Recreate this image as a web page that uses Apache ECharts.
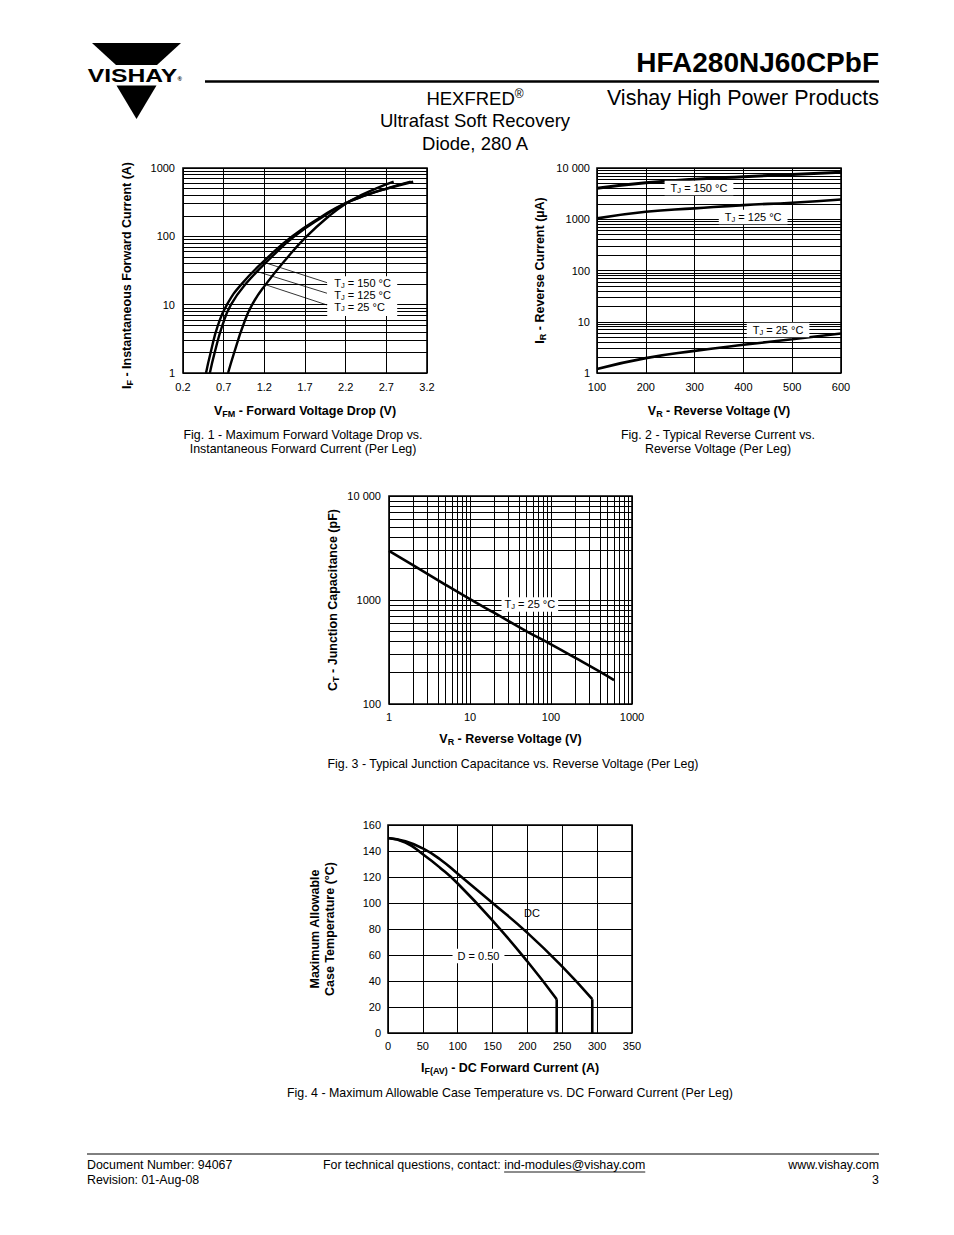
<!DOCTYPE html>
<html>
<head>
<meta charset="utf-8">
<script src="https://cdn.jsdelivr.net/npm/echarts@6.0.0/dist/echarts.min.js"></script>
<style>
html,body{margin:0;padding:0;background:#fff;}
#page{width:954px;height:1235px;}
</style>
</head>
<body>
<div id="page"></div>
<script>
// ---------------- DATA ----------------
// Fig. 1 : forward current (A) vs forward voltage (V)
const fig1Current = [1, 2, 5, 10, 20, 50, 100, 200, 300, 400, 500, 630];
const fig1V150 = [0.483, 0.540, 0.630, 0.740, 0.920, 1.250, 1.540, 1.920, 2.180, 2.450, 2.710, 3.030];
const fig1V125 = [0.530, 0.590, 0.685, 0.790, 0.970, 1.290, 1.570, 1.940, 2.190, 2.450, 2.700, 3.000];
const fig1V25  = [0.754, 0.830, 0.940, 1.050, 1.220, 1.490, 1.720, 2.000, 2.200, 2.390, 2.570, 2.790];
const fig1XTicks = [0.2, 0.7, 1.2, 1.7, 2.2, 2.7, 3.2];
const fig1YTicks = [1, 10, 100, 1000];

// Fig. 2 : reverse current (uA) vs reverse voltage (V)
const fig2Voltage = [100, 200, 300, 400, 500, 600];
const fig2I150 = [4020, 5130, 6030, 6760, 7500, 8220];
const fig2I125 = [1040, 1400, 1630, 1890, 2100, 2430];
const fig2I25  = [1.2, 1.95, 2.7, 3.55, 4.55, 5.9];
const fig2XTicks = [100, 200, 300, 400, 500, 600];
const fig2YTicks = [1, 10, 100, 1000, 10000];

// Fig. 3 : junction capacitance (pF) vs reverse voltage (V)
const fig3Voltage = [1, 2, 5, 10, 20, 50, 100, 200, 400, 600];
const fig3Cap = [2970, 2150, 1400, 1020, 750, 500, 375, 278, 205, 170];
const fig3XTicks = [1, 10, 100, 1000];
const fig3YTicks = [100, 1000, 10000];

// Fig. 4 : max case temperature (°C) vs DC forward current (A)
const fig4DcCurrent = [0, 25, 50, 75, 100, 150, 200, 250, 293, 293];
const fig4DcTemp    = [150, 147.5, 142, 133.5, 122.5, 100, 77, 51, 26, 0];
const fig4D50Current = [0, 25, 50, 75, 100, 150, 200, 242, 242];
const fig4D50Temp    = [150, 146.5, 137.5, 127, 115, 86.5, 55, 26, 0];
const fig4XTicks = [0, 50, 100, 150, 200, 250, 300, 350];
const fig4YTicks = [0, 20, 40, 60, 80, 100, 120, 140, 160];

// annotation anchors (data coordinates)
const fig1Leaders = [
  [[1.186, 42], [1.97, 21.0]],
  [[1.116, 30.4], [1.97, 14.7]],
  [[1.214, 19.6], [1.97, 9.9]]
];
const fig1LabelAnchors = [[1.973, 20.8], [1.973, 13.9], [1.973, 8.95]];
const fig2LabelAnchors = [[309, 4070], [420, 1107], [471, 6.9]];
const fig3LabelAnchor = [54.8, 906];
const fig4LabelAnchors = [[206.6, 92.3], [129.8, 59.2]];

// ---------------- HELPERS ----------------
const FONT = '"Liberation Sans", Arial, Helvetica, sans-serif';
function pairs(xs, ys) { return xs.map((x, i) => [x, ys[i]]); }
function minorLog(min, max) {
  const out = [];
  for (let d = min; d < max; d *= 10) for (let k = 2; k <= 9; k++) out.push(d * k);
  return out;
}
function fmtNum(v) {
  const r = Math.round(v);
  return r >= 10000 ? String(r).replace(/(\d)(?=(\d{3})+$)/g, '$1 ') : String(r);
}
const nameRich = {
  b: { fontFamily: FONT, fontWeight: 'bold', fontSize: 12.5, lineHeight: 15, color: '#000' },
  s: { fontFamily: FONT, fontWeight: 'bold', fontSize: 9, lineHeight: 7, verticalAlign: 'bottom', color: '#000' }
};
const tagRich = {
  a: { fontFamily: FONT, fontSize: 11, lineHeight: 12.5, color: '#000' },
  s: { fontFamily: FONT, fontSize: 7.5, lineHeight: 6, verticalAlign: 'bottom', color: '#000' }
};
const LBL = { color: '#000', fontSize: 11, fontFamily: FONT };
function axisBase(extra) {
  return Object.assign({
    axisLine: { show: false },
    axisTick: { show: false },
    splitLine: { show: true, lineStyle: { color: '#000', width: 1 } },
    nameLocation: 'middle',
    nameTextStyle: { rich: nameRich }
  }, extra);
}
function gridSeries(xi, yi, xVals, yVals) {
  const d = [];
  (xVals || []).forEach(v => d.push({ xAxis: v }));
  (yVals || []).forEach(v => d.push({ yAxis: v }));
  return {
    type: 'line', xAxisIndex: xi, yAxisIndex: yi, data: [], z: 1, silent: true,
    markLine: {
      silent: true, symbol: ['none', 'none'], label: { show: false },
      lineStyle: { color: '#000', width: 1, type: 'solid' },
      emphasis: { disabled: true }, animation: false, data: d
    }
  };
}
function annotations(xi, yi, points, leaders) {
  const s = { type: 'line', xAxisIndex: xi, yAxisIndex: yi, data: [], z: 2, silent: true,
    markPoint: { silent: true, animation: false, data: points } };
  if (leaders) {
    s.markLine = {
      silent: true, symbol: ['none', 'none'], label: { show: false }, animation: false,
      lineStyle: { color: '#000', width: 0.8, type: 'solid' },
      data: leaders.map(l => [{ coord: l[0] }, { coord: l[1] }])
    };
  }
  return s;
}
function curve(xi, yi, data, width, extra) {
  return Object.assign({
    type: 'line', xAxisIndex: xi, yAxisIndex: yi, data: data, showSymbol: false,
    smooth: 0.5, z: 4, silent: true,
    lineStyle: { color: '#000', width: width }
  }, extra || {});
}
function tag(coord, text, opts) {
  return {
    coord: coord, symbol: 'circle', symbolSize: 1, itemStyle: { color: 'rgba(0,0,0,0)' },
    label: Object.assign({
      show: true, position: 'inside', formatter: text, rich: tagRich,
      backgroundColor: '#fff', padding: [1, 5], color: '#000', fontFamily: FONT, fontSize: 11
    }, opts || {})
  };
}
function tj(t) { return '{a|T}{s|J}{a| = ' + t + ' °C}'; }

// ---------------- CHART ----------------
const chart = echarts.init(document.getElementById('page'), null, { renderer: 'svg', width: 954, height: 1235 });

const grids = [
  { left: 183, top: 168, width: 244, height: 205 },
  { left: 597, top: 168, width: 244, height: 205 },
  { left: 389, top: 496, width: 243, height: 208 },
  { left: 388, top: 825, width: 244, height: 208 }
].map(g => Object.assign({ show: true, borderColor: '#000', borderWidth: 1.6, backgroundColor: 'transparent', containLabel: false }, g));

const xAxes = [
  axisBase({ gridIndex: 0, type: 'value', min: fig1XTicks[0], max: fig1XTicks[fig1XTicks.length - 1],
    interval: fig1XTicks[1] - fig1XTicks[0],
    axisLabel: Object.assign({ margin: 8, formatter: v => v.toFixed(1) }, LBL),
    name: '{b|V}{s|FM}{b| - Forward Voltage Drop (V)}', nameGap: 30 }),
  axisBase({ gridIndex: 1, type: 'value', min: fig2XTicks[0], max: fig2XTicks[fig2XTicks.length - 1],
    interval: fig2XTicks[1] - fig2XTicks[0],
    axisLabel: Object.assign({ margin: 8 }, LBL),
    name: '{b|V}{s|R}{b| - Reverse Voltage (V)}', nameGap: 30 }),
  axisBase({ gridIndex: 2, type: 'log', logBase: 10, min: fig3XTicks[0], max: fig3XTicks[fig3XTicks.length - 1],
    axisLabel: Object.assign({ margin: 7, formatter: fmtNum }, LBL),
    name: '{b|V}{s|R}{b| - Reverse Voltage (V)}', nameGap: 27.5 }),
  axisBase({ gridIndex: 3, type: 'value', min: fig4XTicks[0], max: fig4XTicks[fig4XTicks.length - 1],
    interval: fig4XTicks[1] - fig4XTicks[0],
    axisLabel: Object.assign({ margin: 7 }, LBL),
    name: '{b|I}{s|F(AV)}{b| - DC Forward Current (A)}', nameGap: 27.5 })
];
const yAxes = [
  axisBase({ gridIndex: 0, type: 'log', logBase: 10, min: fig1YTicks[0], max: fig1YTicks[fig1YTicks.length - 1],
    axisLabel: Object.assign({ margin: 8, formatter: fmtNum }, LBL),
    name: '{b|I}{s|F}{b| - Instantaneous Forward Current (A)}', nameGap: 48.5, nameRotate: 90,
    nameTextStyle: { rich: nameRich, padding: [0, 10, 0, 0] } }),
  axisBase({ gridIndex: 1, type: 'log', logBase: 10, min: fig2YTicks[0], max: fig2YTicks[fig2YTicks.length - 1],
    axisLabel: Object.assign({ margin: 7, formatter: fmtNum }, LBL),
    name: '{b|I}{s|R}{b| - Reverse Current (µA)}', nameGap: 49.5, nameRotate: 90 }),
  axisBase({ gridIndex: 2, type: 'log', logBase: 10, min: fig3YTicks[0], max: fig3YTicks[fig3YTicks.length - 1],
    axisLabel: Object.assign({ margin: 8, formatter: fmtNum }, LBL),
    name: '{b|C}{s|T}{b| - Junction Capacitance (pF)}', nameGap: 48.5, nameRotate: 90 }),
  axisBase({ gridIndex: 3, type: 'value', min: fig4YTicks[0], max: fig4YTicks[fig4YTicks.length - 1],
    interval: fig4YTicks[1] - fig4YTicks[0],
    axisLabel: Object.assign({ margin: 7 }, LBL),
    name: '{b|Maximum Allowable}\n{b|Case Temperature (°C)}', nameGap: 51, nameRotate: 90 })
];

const dcPts = pairs(fig4DcCurrent, fig4DcTemp);
const d50Pts = pairs(fig4D50Current, fig4D50Temp);
const boxFig1 = { align: 'left', width: 57, padding: [0.5, 6, 0.5, 7] };

const series = [
  gridSeries(0, 0, null, minorLog(fig1YTicks[0], fig1YTicks[fig1YTicks.length - 1])),
  gridSeries(1, 1, null, minorLog(fig2YTicks[0], fig2YTicks[fig2YTicks.length - 1])),
  gridSeries(2, 2, minorLog(fig3XTicks[0], fig3XTicks[fig3XTicks.length - 1]), minorLog(fig3YTicks[0], fig3YTicks[fig3YTicks.length - 1])),

  annotations(0, 0, [
    tag(fig1LabelAnchors[0], tj(150), boxFig1),
    tag(fig1LabelAnchors[1], tj(125), boxFig1),
    tag(fig1LabelAnchors[2], tj(25), Object.assign({}, boxFig1, { padding: [0.5, 6, 3, 7] }))
  ], fig1Leaders),
  annotations(1, 1, [
    tag(fig2LabelAnchors[0], tj(150), { padding: [1, 6] }),
    tag(fig2LabelAnchors[1], tj(125), { padding: [1, 6] }),
    tag(fig2LabelAnchors[2], tj(25), { padding: [1, 6] })
  ]),
  annotations(2, 2, [tag(fig3LabelAnchor, tj(25), { padding: [1, 3] })]),
  annotations(3, 3, [
    tag(fig4LabelAnchors[0], '{a|DC}', { padding: [1, 2], backgroundColor: 'transparent' }),
    tag(fig4LabelAnchors[1], '{a|D = 0.50}', { padding: [1, 5] })
  ]),

  // Fig 1
  curve(0, 0, pairs(fig1V150, fig1Current), 2.4),
  curve(0, 0, pairs(fig1V125, fig1Current), 2.4),
  curve(0, 0, pairs(fig1V25, fig1Current), 2.4),
  // Fig 2
  curve(1, 1, pairs(fig2Voltage, fig2I150), 3),
  curve(1, 1, pairs(fig2Voltage, fig2I125), 2.6),
  curve(1, 1, pairs(fig2Voltage, fig2I25), 2.6),
  // Fig 3
  curve(2, 2, pairs(fig3Voltage, fig3Cap), 2.6),
  // Fig 4
  curve(3, 3, dcPts.slice(0, dcPts.length - 1), 2.6),
  curve(3, 3, dcPts.slice(dcPts.length - 2), 2.6, { smooth: false }),
  curve(3, 3, d50Pts.slice(0, d50Pts.length - 1), 2.6),
  curve(3, 3, d50Pts.slice(d50Pts.length - 2), 2.6, { smooth: false })
];

function txt(x, y, text, size, opts) {
  return {
    type: 'text', x: x, y: y, silent: true,
    style: Object.assign({ text: text, fontSize: size, fontFamily: FONT, fill: '#000', align: 'left', verticalAlign: 'middle' }, opts || {})
  };
}

// footer layout (measure the contact text to place the underlined e-mail)
const FOOT = 12.4;
const mctx = document.createElement('canvas').getContext('2d');
mctx.font = FOOT + 'px ' + FONT;
const contactText = 'For technical questions, contact: ';
const emailText = 'ind-modules@vishay.com';
const emailX = 323 + mctx.measureText(contactText).width;
const emailW = mctx.measureText(emailText).width;

const graphics = [
  // logo
  { type: 'polygon', silent: true, shape: { points: [[92, 43], [181, 43], [157, 65], [116, 65]] }, style: { fill: '#000' } },
  { type: 'polygon', silent: true, shape: { points: [[116.5, 85.5], [156.5, 85.5], [136.5, 119]] }, style: { fill: '#000' } },
  { type: 'text', silent: true, x: 132.5, y: 75.5, scaleX: 1.3,
    style: { text: 'VISHAY', fontSize: 19, fontWeight: 'bold', fontFamily: FONT, fill: '#000', align: 'center', verticalAlign: 'middle' } },
  txt(177.5, 79, '®', 6, { fontWeight: 'bold' }),

  // header
  txt(879, 62, 'HFA280NJ60CPbF', 28, { fontWeight: 'bold', align: 'right' }),
  { type: 'line', silent: true, shape: { x1: 205, y1: 81.5, x2: 879, y2: 81.5 }, style: { stroke: '#000', lineWidth: 2.5 } },
  txt(879, 98, 'Vishay High Power Products', 21.5, { align: 'right' }),
  { type: 'text', silent: true, x: 475, y: 98,
    style: { text: '{a|HEXFRED}{r|®}', fill: '#000', align: 'center', verticalAlign: 'middle',
      rich: { a: { fontSize: 18.5, fontFamily: FONT, lineHeight: 21, fill: '#000' }, r: { fontSize: 12, fontFamily: FONT, lineHeight: 12, verticalAlign: 'top', fill: '#000' } } } },
  txt(475, 120.5, 'Ultrafast Soft Recovery', 18.5, { align: 'center' }),
  txt(475, 143, 'Diode, 280 A', 18.5, { align: 'center' }),

  // captions
  txt(303, 435, 'Fig. 1 - Maximum Forward Voltage Drop vs.', 12.4, { align: 'center' }),
  txt(303, 449, 'Instantaneous Forward Current (Per Leg)', 12.4, { align: 'center' }),
  txt(718, 435, 'Fig. 2 - Typical Reverse Current vs.', 12.4, { align: 'center' }),
  txt(718, 449, 'Reverse Voltage (Per Leg)', 12.4, { align: 'center' }),
  txt(513, 764, 'Fig. 3 - Typical Junction Capacitance vs. Reverse Voltage (Per Leg)', 12.4, { align: 'center' }),
  txt(510, 1093, 'Fig. 4 - Maximum Allowable Case Temperature vs. DC Forward Current (Per Leg)', 12.4, { align: 'center' }),

  // footer
  { type: 'line', silent: true, shape: { x1: 87, y1: 1154, x2: 879, y2: 1154 }, style: { stroke: '#000', lineWidth: 1 } },
  txt(87, 1165, 'Document Number: 94067', FOOT),
  txt(87, 1179.5, 'Revision: 01-Aug-08', FOOT),
  txt(323, 1165, contactText, FOOT),
  txt(emailX, 1165, emailText, FOOT),
  { type: 'line', silent: true, shape: { x1: emailX, y1: 1172, x2: emailX + emailW, y2: 1172 }, style: { stroke: '#000', lineWidth: 0.9 } },
  txt(879, 1165, 'www.vishay.com', FOOT, { align: 'right' }),
  txt(879, 1179.5, '3', FOOT, { align: 'right' })
];

chart.setOption({
  animation: false,
  backgroundColor: '#fff',
  textStyle: { fontFamily: FONT, color: '#000' },
  grid: grids,
  xAxis: xAxes,
  yAxis: yAxes,
  series: series,
  graphic: graphics
});
</script>
</body>
</html>
